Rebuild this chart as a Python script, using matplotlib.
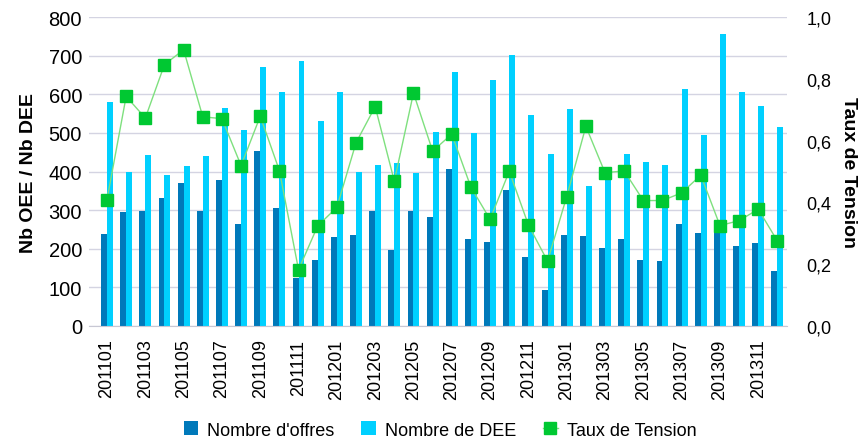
import matplotlib
matplotlib.use("Agg")
import matplotlib.pyplot as plt
import numpy as np

plt.rcParams['font.family'] = ['Liberation Sans', 'DejaVu Sans']

months = ["201101","201102","201103","201104","201105","201106","201107","201108","201109","201110","201111","201112",
          "201201","201202","201203","201204","201205","201206","201207","201208","201209","201210","201211","201212",
          "201301","201302","201303","201304","201305","201306","201307","201308","201309","201310","201311","201312"]
offres = [238, 296, 299, 331, 371, 299, 378, 264, 454, 305, 125, 172,
          231, 236, 297, 198, 299, 283, 407, 224, 218, 353, 179, 94,
          235, 233, 201, 224, 172, 168, 265, 242, 248, 207, 216, 142]
dee = [581, 400, 444, 391, 414, 441, 564, 508, 670, 607, 685, 531,
       605, 398, 418, 423, 396, 501, 658, 499, 637, 702, 547, 446,
       562, 362, 400, 446, 425, 416, 614, 495, 755, 607, 569, 514]
taux = [0.409, 0.743, 0.673, 0.846, 0.894, 0.677, 0.671, 0.519, 0.679, 0.503, 0.182, 0.324,
        0.384, 0.593, 0.710, 0.469, 0.754, 0.566, 0.621, 0.449, 0.345, 0.501, 0.327, 0.210,
        0.419, 0.646, 0.496, 0.502, 0.406, 0.406, 0.431, 0.488, 0.325, 0.341, 0.378, 0.275]

c_dark = '#0079BA'
c_light = '#00D0FF'
c_green = '#00C832'
c_line = '#7EE07E'

fig = plt.figure(figsize=(8.63, 4.39), dpi=100)
ax = fig.add_axes([89/863, 1-327/439, (787-89)/863, (327-18)/439])
x = np.arange(len(months))
w = 0.31
ax.bar(x - w/2, offres, width=w, color=c_dark, label="Nombre d'offres", zorder=2)
ax.bar(x + w/2, dee, width=w, color=c_light, label="Nombre de DEE", zorder=2)
ax.set_ylim(0, 800)
ax.set_yticks(range(0, 801, 100))
ax.set_xlim(-0.94, 35.5)
ax.set_xticks(x[::2])
ax.set_xticklabels(months[::2], rotation=90, fontsize=13)
ax.tick_params(axis='y', labelsize=14.5, length=0, pad=5)
ax.tick_params(axis='x', length=0, pad=9)
ax.grid(axis='y', color='#D4D4E2', linewidth=1, zorder=0)
ax.set_axisbelow(True)
for s in ['top', 'right', 'left']:
    ax.spines[s].set_visible(False)
ax.spines['bottom'].set_color('#C8C8D4')
ax.set_ylabel("Nb OEE / Nb DEE", fontsize=14, fontweight='bold', labelpad=8)

ax2 = ax.twinx()
ax2.plot(x, taux, color=c_line, linewidth=1, marker='s', markersize=8.5,
         markerfacecolor=c_green, markeredgecolor=c_green, label="Taux de Tension", zorder=3)
ax2.set_ylim(0, 1.0)
ax2.set_yticks(np.arange(0, 1.01, 0.2))
ax2.set_yticklabels([f"{v:.1f}".replace('.', ',') for v in np.arange(0, 1.01, 0.2)])
ax2.tick_params(axis='y', labelsize=13, length=0, pad=14)
for s in ['top', 'right', 'left', 'bottom']:
    ax2.spines[s].set_visible(False)
ax2.set_ylabel("Taux de Tension", fontsize=14, fontweight='bold', rotation=-90, labelpad=18)

h1, l1 = ax.get_legend_handles_labels()
h2, l2 = ax2.get_legend_handles_labels()
fig.legend(h1 + h2, l1 + l2, loc='center', bbox_to_anchor=(440/863, 1-431/439), ncol=3,
           frameon=False, fontsize=13, handlelength=0.8, handleheight=0.8,
           handletextpad=0.5, columnspacing=1.5)

fig.savefig("out.png", dpi=100)
